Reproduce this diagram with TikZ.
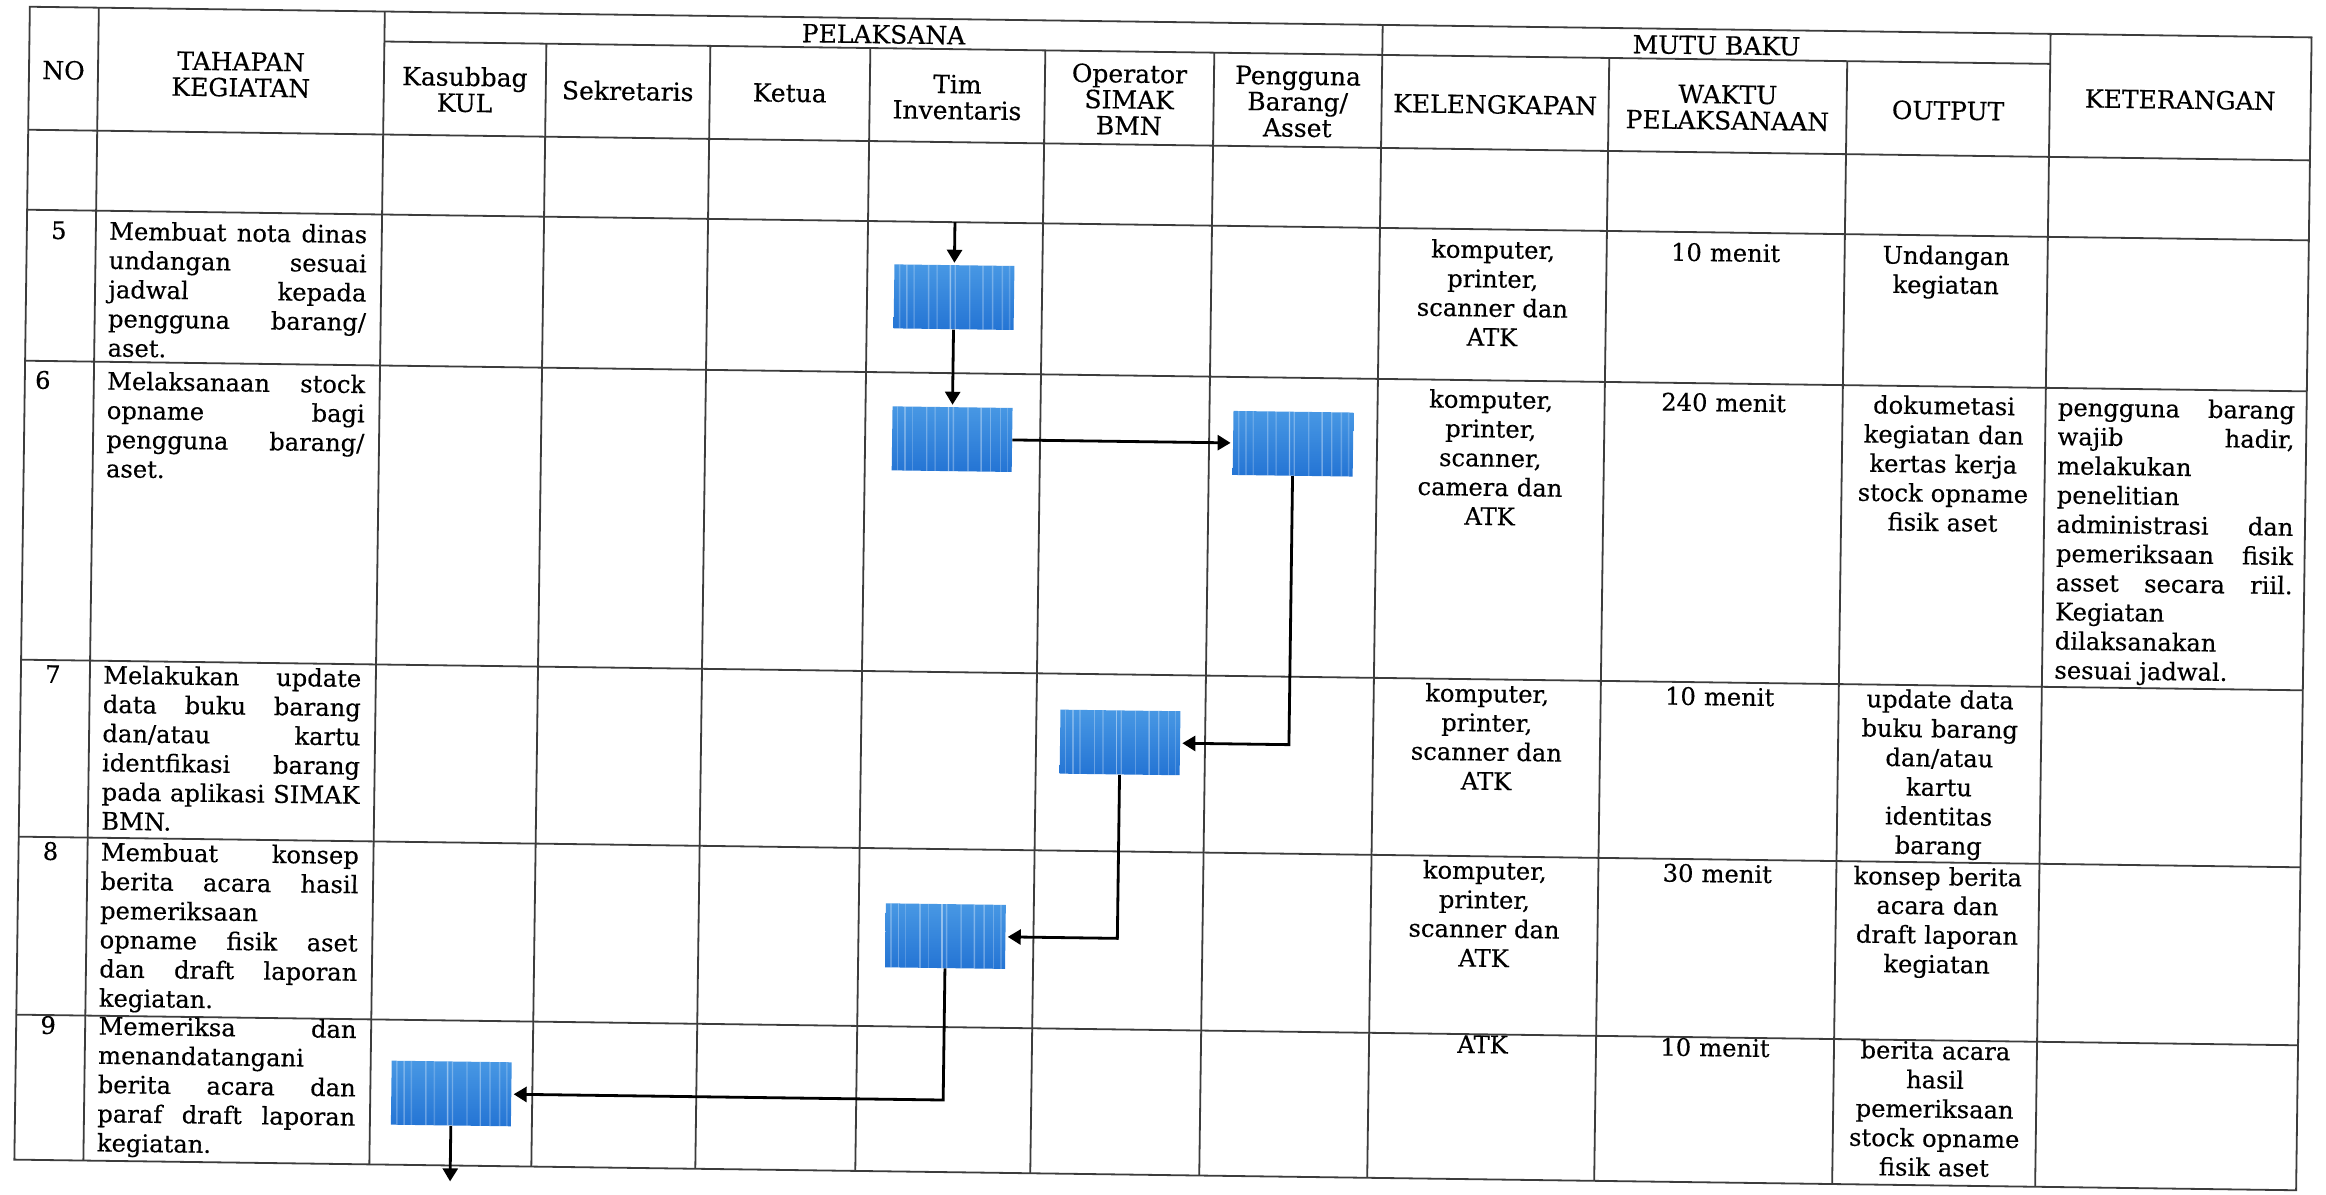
\documentclass[tikz,border=0pt]{standalone}
\usepackage{fontspec}
\setmainfont{DejaVu Serif}[FakeBold=0.35]
\usetikzlibrary{arrows.meta,calc}
\definecolor{boxtop}{RGB}{72,152,228}
\definecolor{boxbot}{RGB}{36,116,212}
\definecolor{rule}{RGB}{60,60,60}
\newcommand\jl[1]{\leavevmode\hbox to 129pt{#1}}
\newcommand\kl[1]{\leavevmode\hbox to 118.5pt{#1}}
\begin{document}
\begin{tikzpicture}[x=0.5pt,y=-0.5pt,
  tbl/.style={draw=rule,line width=0.9pt},
  hdr/.style={font=\fontsize{12.5}{13}\selectfont,align=center,inner sep=0pt},
  cell/.style={font=\fontsize{12.1}{14.6}\selectfont,anchor=north,inner sep=0pt,align=center},
  lcell/.style={font=\fontsize{12.1}{14.6}\selectfont,anchor=north west,inner sep=0pt,align=left},
  proc/.style={minimum width=60pt,minimum height=32pt,inner sep=0pt,
    top color=boxtop,bottom color=boxbot,
    path picture={
      \foreach \fr/\op in {0.05/0.25,0.11/0.3,0.17/0.2,0.29/0.3,0.36/0.2,0.47/0.45,0.51/0.3,0.63/0.25,0.74/0.35,0.82/0.3,0.9/0.25,0.96/0.2}
        \draw[white,opacity=\op,line width=0.7pt]
          ($(path picture bounding box.south west)!\fr!(path picture bounding box.south east)$) --
          ($(path picture bounding box.north west)!\fr!(path picture bounding box.north east)$);
    }},
  conn/.style={draw=black,line width=1.4pt,shorten >=1pt,-{Triangle[length=6.5pt,width=7.5pt]}}
]
\fill[white] (0,0) rectangle (2326,1195);
\useasboundingbox (0,0) rectangle (2326,1195);

\begin{scope}[rotate around={-0.77:(1163,597)},transform shape]
% ---------- table grid ----------
\draw[tbl] (22,22) rectangle (2304,1175);
\draw[tbl] (377,52) -- (2043,52);
\foreach \yy in {145,225,376,675,852,1030}
  \draw[tbl] (22,\yy) -- (2304,\yy);
\foreach \xx in {91,377,1375,2043}
  \draw[tbl] (\xx,22) -- (\xx,1175);
\foreach \xx in {539,703,863,1038,1207,1602,1840}
  \draw[tbl] (\xx,52) -- (\xx,1175);

% ---------- header ----------
\node[hdr] (hNO)   at (56.5,85)   {NO};
\node[hdr] (hTah)  at (234,87)    {TAHAPAN\\KEGIATAN};
\node[hdr] (hPel)  at (876,38)    {PELAKSANA};
\node[hdr] (hKas)  at (458,99)    {Kasubbag\\KUL};
\node[hdr] (hSek)  at (621,98)    {Sekretaris};
\node[hdr] (hKet)  at (783,98)    {Ketua};
\node[hdr] (hTim)  at (950.5,100) {Tim\\Inventaris};
\node[hdr] (hOp)   at (1122.5,100){Operator\\SIMAK\\BMN};
\node[hdr] (hPg)   at (1291,100)  {Pengguna\\Barang/\\Asset};
\node[hdr] (hMutu) at (1709,38)   {MUTU BAKU};
\node[hdr] (hKel)  at (1488.5,100){KELENGKAPAN};
\node[hdr] (hWak)  at (1721,100)  {WAKTU\\PELAKSANAAN};
\node[hdr] (hOut)  at (1941.5,100){OUTPUT};
\node[hdr] (hKetr) at (2173.5,86) {KETERANGAN};

% ---------- row 5 ----------
\node[cell] (n5) at (54,233) {\strut 5};
\node[lcell,text width=129pt] (t5) at (104,233) {\strut\jl{Membuat\hfill nota\hfill dinas}\\
  \jl{undangan\hfill sesuai}\\ \jl{jadwal\hfill kepada}\\ \jl{pengguna\hfill barang/}\\ aset.};
\node[cell,text width=108pt] (k5) at (1488.5,233) {\strut komputer,\\printer,\\scanner dan\\ATK};
\node[cell,text width=112pt] (w5) at (1721,233) {\strut 10 menit};
\node[cell,text width=96pt] (o5) at (1941.5,233) {\strut Undangan\\kegiatan};

% ---------- row 6 ----------
\node[cell] (n6) at (40,383) {\strut 6};
\node[lcell,text width=129pt] (t6) at (104,383) {\strut\jl{Melaksanaan\hfill stock}\\
  \jl{opname\hfill bagi}\\ \jl{pengguna\hfill barang/}\\ aset.};
\node[cell,text width=108pt] (k6) at (1488.5,383) {\strut komputer,\\printer,\\scanner,\\camera dan\\ATK};
\node[cell,text width=112pt] (w6) at (1721,383) {\strut 240 menit};
\node[cell,text width=96pt] (o6) at (1941.5,383) {\strut dokumetasi\\kegiatan dan\\kertas kerja\\stock opname\\fisik aset};
\node[lcell,text width=118.5pt] (r6) at (2055,383) {\strut\kl{pengguna\hfill barang}\\
  \kl{wajib\hfill hadir,}\\ melakukan\\ penelitian\\ \kl{administrasi\hfill dan}\\
  \kl{pemeriksaan\hfill fisik}\\ \kl{asset\hfill secara\hfill riil.}\\ Kegiatan\\ dilaksanakan\\ sesuai jadwal.};

% ---------- row 7 ----------
\node[cell] (n7) at (54,677) {\strut 7};
\node[lcell,text width=129pt] (t7) at (104,677) {\strut\jl{Melakukan\hfill update}\\
  \jl{data\hfill buku\hfill barang}\\ \jl{dan/atau\hfill kartu}\\ \jl{identfikasi\hfill barang}\\
  \jl{pada\hfill aplikasi\hfill SIMAK}\\ BMN.};
\node[cell,text width=108pt] (k7) at (1488.5,677) {\strut komputer,\\printer,\\scanner dan\\ATK};
\node[cell,text width=112pt] (w7) at (1721,677) {\strut 10 menit};
\node[cell,text width=96pt] (o7) at (1941.5,677) {\strut update data\\buku barang\\dan/atau\\kartu\\identitas\\barang};

% ---------- row 8 ----------
\node[cell] (n8) at (54,854) {\strut 8};
\node[lcell,text width=129pt] (t8) at (104,854) {\strut\jl{Membuat\hfill konsep}\\
  \jl{berita\hfill acara\hfill hasil}\\ pemeriksaan\\ \jl{opname\hfill fisik\hfill aset}\\
  \jl{dan\hfill draft\hfill laporan}\\ kegiatan.};
\node[cell,text width=108pt] (k8) at (1488.5,854) {\strut komputer,\\printer,\\scanner dan\\ATK};
\node[cell,text width=112pt] (w8) at (1721,854) {\strut 30 menit};
\node[cell,text width=96pt] (o8) at (1941.5,854) {\strut konsep berita\\acara dan\\draft laporan\\kegiatan};

% ---------- row 9 ----------
\node[cell] (n9) at (54,1028) {\strut 9};
\node[lcell,text width=129pt] (t9) at (104,1028) {\strut\jl{Memeriksa\hfill dan}\\
  menandatangani\\ \jl{berita\hfill acara\hfill dan}\\ \jl{paraf\hfill draft\hfill laporan}\\ kegiatan.};
\node[cell,text width=108pt] (k9) at (1488.5,1028) {\strut ATK};
\node[cell,text width=112pt] (w9) at (1721,1028) {\strut 10 menit};
\node[cell,text width=96pt] (o9) at (1941.5,1028) {\strut berita acara\\hasil\\pemeriksaan\\stock opname\\fisik aset};

% ---------- process boxes ----------
\node[proc] (A) at (950,300)  {};
\node[proc] (B) at (950,442)  {};
\node[proc] (C) at (1291,442) {};
\node[proc] (D) at (1122,743) {};
\node[proc] (E) at (950,939)  {};
\node[proc] (F) at (458,1103) {};

% ---------- connectors ----------
\coordinate (inA) at (950,225);
\coordinate (outF) at (458,1193);
\draw[conn] (inA) -- (A.north);
\draw[conn] (A.south) -- (B.north);
\draw[conn] (B.east) -- (C.west);
\draw[conn] (C.south) |- (D.east);
\draw[conn] (D.south) |- (E.east);
\draw[conn] (E.south) |- (F.east);
\draw[conn] (F.south) -- (outF);
\end{scope}
\end{tikzpicture}
\end{document}
